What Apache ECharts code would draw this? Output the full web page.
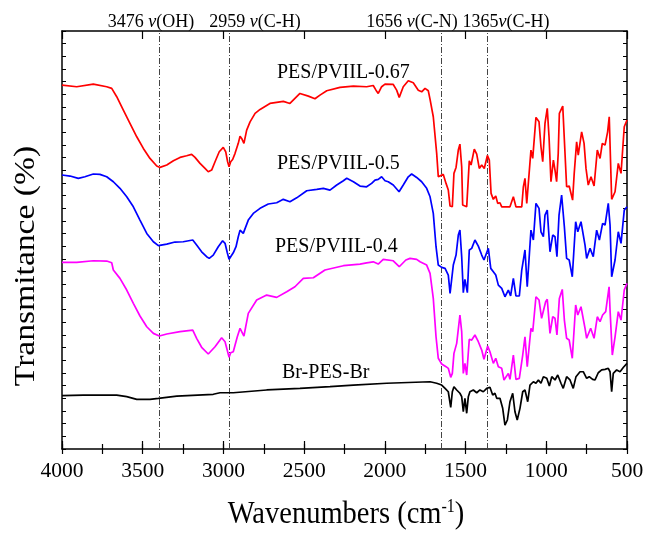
<!DOCTYPE html>
<html>
<head>
<meta charset="utf-8">
<script src="https://cdn.jsdelivr.net/npm/echarts@6/dist/echarts.min.js"></script>
<style>
  html, body { margin: 0; padding: 0; background: #fff; }
  #chart { width: 651px; height: 533px; }
</style>
</head>
<body>
<div id="chart"></div>
<script>
// FTIR spectra, offset vertically (arbitrary transmittance units)
const refLines = [3400, 2962, 1652, 1367];
const refLabels = ['3476 {i|ν}(OH)', '2959 {i|ν}(C-H)', '1656 {i|ν}(C-N)', '1365{i|ν}(C-H)'];

const redWn = [4000,3909,3806,3723,3692,3661,3620,3579,3537,3496,
  3455,3413,3393,3351,3310,3269,3228,3197,3176,3145,
  3114,3094,3073,3052,3026,3001,2986,2974,2965,2955,
  2943,2928,2908,2897,2887,2873,2856,2835,2804,2773,
  2712,2629,2588,2526,2474,2433,2402,2360,2278,2195,
  2113,2072,2055,2041,2020,1999,1948,1927,1911,1886,
  1855,1824,1793,1772,1751,1731,1720,
  1700,1679,1669,1658,1638,1621,1607,1596,1582,1572,1559,1545,1535,1524,1518,1493,1477,1466,1446,1431,
  1415,1400,1384,1365,1353,1342,1328,1313,1301,1287,1276,1225,1204,1188,1152,1142,1132,1121,1111,1095,
  1084,1064,1045,1033,1022,1008,994,983,971,956,946,936,926,919,909,898,888,874,858,837,
  827,812,802,781,766,754,740,723,704,684,667,653,636,620,610,595,574,554,537,517,500];
const redT = [28.73,28.60,28.81,28.60,28.47,27.81,26.76,25.71,24.65,23.73,
  22.94,22.34,22.23,22.42,22.75,23.02,23.15,23.26,23.02,22.55,
  22.15,21.89,22.02,22.68,23.47,23.81,23.47,22.68,22.28,22.68,
  22.86,23.34,24.13,24.70,24.52,24.13,25.18,25.83,26.50,26.81,
  27.28,27.44,27.28,28.07,27.86,27.65,27.94,28.28,28.55,28.65,
  28.60,28.70,28.33,28.07,28.60,28.81,28.78,28.33,27.76,28.60,
  29.07,28.91,28.33,28.20,28.47,28.28,27.60,
  26.23,23.34,21.49,21.44,21.68,20.97,20.44,19.18,19.12,21.76,22.23,23.60,24.07,22.28,19.26,19.12,22.75,22.42,23.68,23.28,
  22.15,22.42,22.15,23.18,22.81,20.18,19.71,19.97,19.39,19.44,19.12,19.12,19.91,19.12,19.12,20.70,21.37,19.39,19.39,23.60,
  22.94,26.18,25.83,23.86,22.68,25.71,26.89,24.65,21.10,22.81,22.02,21.10,23.34,26.50,26.62,27.07,24.39,20.70,20.76,19.65,
  21.76,24.25,23.20,25.04,24.13,22.15,20.84,21.49,20.76,23.60,22.94,24.13,23.99,25.04,26.23,19.71,20.31,22.55,21.76,25.44,25.97];

const blueWn = [4000,3950,3899,3858,3806,3765,3723,3682,3641,3599,
  3558,3517,3475,3434,3403,3351,3300,3249,3190,3166,
  3135,3104,3088,3063,3032,3005,2990,2976,2965,2955,
  2939,2922,2908,2897,2887,2877,2866,2846,2815,2773,
  2722,2670,2629,2588,2546,2484,2422,2381,2340,2298,
  2257,2236,2195,2154,2113,2082,2061,2041,2020,1999,
  1979,1948,1912,1886,1855,1834,1803,1772,1741,1720,
  1700,1683,1669,1648,1627,1607,1596,1584,1576,1559,1545,1535,1524,1514,1504,1489,1477,1462,1442,1421,
  1400,1386,1359,1344,1328,1313,1297,1276,1256,1235,1221,1204,1188,1167,1152,1132,1118,1095,1080,1064,
  1045,1033,1018,1008,994,977,960,946,934,921,905,888,874,858,839,818,805,785,760,750,
  729,709,688,671,651,636,616,605,595,574,554,537,517,500];
const blueT = [21.63,21.55,21.37,21.49,21.71,21.68,21.49,21.10,20.58,19.91,
  19.12,18.07,17.02,16.36,16.05,16.18,16.34,16.36,16.50,16.10,
  15.57,15.18,15.05,15.31,15.97,16.44,16.24,15.49,14.97,15.18,
  15.49,15.97,16.76,17.28,17.42,17.02,16.97,18.07,18.60,19.00,
  19.34,19.44,19.71,19.52,19.83,20.39,20.50,20.58,20.44,20.84,
  21.18,21.37,21.10,20.76,20.70,20.97,21.23,21.29,21.49,21.18,
  21.10,20.84,20.31,20.84,21.49,21.71,21.44,21.10,20.58,19.91,
  18.60,15.97,14.52,14.34,14.26,13.73,12.29,12.29,14.52,15.31,16.89,17.28,15.18,12.34,13.39,12.34,15.71,15.84,16.50,16.02,
  15.31,14.92,15.84,14.26,13.99,13.73,12.94,12.68,12.02,12.55,12.08,13.47,12.08,12.08,14.13,15.71,12.81,17.28,16.50,19.39,
  19.00,17.15,16.76,18.47,18.86,15.57,16.89,16.76,15.18,18.47,20.05,17.55,15.05,14.92,13.60,17.94,17.15,17.94,16.10,15.05,
  15.84,15.18,17.28,16.50,17.81,17.68,19.39,17.68,13.60,14.92,17.15,16.24,18.86,19.12];

const magWn = [4000,3909,3806,3723,3692,3682,3641,3599,3558,3517,
  3475,3434,3397,3351,3269,3190,3166,3135,3094,3052,
  3011,2990,2965,2955,2939,2914,2897,2873,2846,2794,
  2732,2670,2608,2557,2505,2443,2371,2257,2154,2113,
  2072,2041,2010,1948,1911,1870,1844,1803,1782,1741,1720,
  1700,1683,1669,1648,1621,1607,1592,1582,1572,1555,1535,1524,1514,1504,1493,1477,1462,1442,1421,1400,
  1386,1363,1349,1328,1313,1297,1276,1262,1235,1225,1204,1188,1167,1146,1132,1118,1095,1084,1064,1045,
  1029,1018,1004,994,977,960,946,934,919,901,888,874,858,839,818,805,785,760,750,725,
  704,684,667,651,632,611,605,591,574,554,537,517,500];
const magT = [14.74,14.74,14.86,14.84,14.70,14.13,13.47,12.55,11.50,10.50,
  9.65,9.13,8.92,9.08,9.26,9.39,8.74,8.03,7.50,8.07,
  8.78,8.47,7.24,7.60,7.68,8.86,9.53,8.92,10.71,11.76,
  12.15,11.97,12.42,12.81,13.47,13.52,14.13,14.47,14.60,14.70,
  14.78,14.60,14.97,14.86,14.39,14.92,15.05,14.97,14.78,14.52,13.87,
  11.89,8.86,7.16,6.71,6.50,6.37,5.66,5.97,7.55,8.34,10.58,9.26,5.97,6.76,5.84,8.66,8.60,9.00,8.47,7.81,
  7.08,8.13,7.68,6.76,7.16,6.50,6.37,5.45,5.97,5.50,7.42,5.50,5.58,7.42,8.86,6.50,9.53,9.26,12.02,11.76,
  10.32,10.18,11.63,11.82,9.13,10.44,10.32,9.00,11.89,12.60,10.18,8.74,8.60,7.16,11.37,10.58,11.23,9.53,8.74,9.53,
  8.74,10.44,10.05,10.58,10.84,12.81,10.97,7.42,8.86,10.84,10.18,12.55,13.08];

const blackWn = [4000,3868,3661,3599,3537,3455,3403,3289,3063,3021,
  2939,2732,2526,2340,2195,1989,1720,1679,1648,1627,
  1607,1592,1582,1572,1555,1535,1524,1514,1504,1493,
  1483,1473,1452,1431,1411,1390,1369,1349,1332,1318,
  1307,1287,1270,1256,1241,1225,1208,1194,1180,1163,
  1146,1132,1115,1101,1080,1064,1049,1033,1018,997,
  981,966,946,929,909,895,874,853,833,816,
  791,771,750,734,713,698,678,657,636,616,
  605,595,585,574,564,543,522,500];
const blackT = [4.21,4.26,4.26,4.13,3.92,3.92,4.00,4.18,4.32,4.44,
  4.44,4.66,4.79,4.92,5.05,5.19,5.31,5.19,5.05,4.79,
  4.52,3.29,4.52,4.92,4.66,4.40,4.13,2.94,4.00,2.82,
  4.13,4.52,4.66,4.44,4.66,4.52,4.79,4.87,4.26,4.40,
  4.00,4.00,3.21,1.89,2.29,3.73,4.40,2.94,2.29,3.21,
  4.52,4.66,3.73,5.05,5.31,5.19,5.45,5.19,5.71,5.58,
  4.97,5.71,5.45,5.84,5.19,4.79,5.71,5.45,4.79,5.71,
  6.10,6.10,5.58,5.71,5.50,5.45,6.02,6.24,6.29,6.37,
  6.10,4.52,5.97,6.10,6.24,6.10,6.45,6.76];

const seriesNames = ['PES/PVIIL-0.67', 'PES/PVIIL-0.5', 'PES/PVIIL-0.4', 'Br-PES-Br'];
const seriesColors = ['#ff0000', '#0000ff', '#ff00ff', '#000000'];

const serif = '"Liberation Serif", "Times New Roman", serif';

function pairs(wn, t) {
  return wn.map((w, i) => [w, t[i]]);
}

const chart = echarts.init(document.getElementById('chart'));

const baseX = {
  type: 'value',
  min: 500,
  max: 4000,
  inverse: true,
  splitLine: { show: false }
};

const baseY = {
  type: 'value',
  min: 0,
  max: 33,
  interval: 1,
  axisLine: { show: true, onZero: false, lineStyle: { color: '#000', width: 1.5 } },
  axisTick: { show: true, inside: true, length: 4, lineStyle: { color: '#000', width: 1 } },
  axisLabel: { show: false },
  splitLine: { show: false }
};

const majorX = Object.assign({}, baseX, {
  interval: 500,
  axisLine: { show: true, onZero: false, lineStyle: { color: '#000', width: 1.5 } },
  axisTick: { show: true, inside: true, length: 8, lineStyle: { color: '#000', width: 1.2 } }
});
const minorX = Object.assign({}, baseX, {
  interval: 250,
  axisLine: { show: false },
  axisTick: { show: true, inside: true, length: 5, lineStyle: { color: '#000', width: 1.2 } },
  axisLabel: { show: false }
});

const allData = [pairs(redWn, redT), pairs(blueWn, blueT), pairs(magWn, magT), pairs(blackWn, blackT)];

const series = allData.map((d, i) => ({
  name: seriesNames[i],
  type: 'line',
  data: d,
  showSymbol: false,
  symbol: 'none',
  lineStyle: { color: seriesColors[i], width: 1.7 },
  z: 3
}));

// dash-dot guide lines at the assigned bands
series[3].markLine = {
  symbol: 'none',
  silent: true,
  label: { show: false },
  lineStyle: { color: '#444', width: 1, type: [6, 2, 1, 2] },
  data: refLines.map(w => ({ xAxis: w })),
  z: 2
};

const labelPos = [[151, 22], [255, 22], [412, 22], [506, 22]];
const seriesLabelPos = [[277, 72], [277, 163], [275, 246], [282, 372]];

const graphics = [];
refLabels.forEach((t, i) => {
  graphics.push({
    type: 'text',
    x: labelPos[i][0],
    y: labelPos[i][1],
    scaleY: 1.1,
    style: {
      text: t,
      fontFamily: serif,
      fontSize: 18,
      fill: '#000',
      align: 'center',
      verticalAlign: 'middle',
      rich: { i: { fontFamily: serif, fontSize: 18, fontStyle: 'italic', fill: '#000' } }
    }
  });
});
seriesNames.forEach((n, i) => {
  graphics.push({
    type: 'text',
    x: seriesLabelPos[i][0],
    y: seriesLabelPos[i][1],
    scaleY: 1.1,
    style: {
      text: n,
      fontFamily: serif,
      fontSize: 20,
      fill: '#000',
      align: 'left',
      verticalAlign: 'middle'
    }
  });
});
// axis titles
graphics.push({
  type: 'text',
  x: 26,
  y: 266,
  rotation: Math.PI / 2,
  scaleX: 1.12,
  style: {
    text: 'Transmitance (%)',
    fontFamily: serif,
    fontSize: 30,
    fill: '#000',
    align: 'center',
    verticalAlign: 'middle'
  }
});
graphics.push({
  type: 'text',
  x: 346,
  y: 515,
  scaleY: 1.12,
  style: {
    text: 'Wavenumbers (cm{sup|-1})',
    fontFamily: serif,
    fontSize: 28.5,
    fill: '#000',
    align: 'center',
    verticalAlign: 'middle',
    rich: { sup: { fontFamily: serif, fontSize: 16, fill: '#000', verticalAlign: 'top', lineHeight: 30 } }
  }
});

chart.setOption({
  animation: false,
  backgroundColor: '#fff',
  grid: { left: 62, right: 24, top: 31, bottom: 84, containLabel: false },
  xAxis: [
    Object.assign({}, majorX, {
      position: 'bottom',
      axisLabel: {
        show: true, fontFamily: serif, fontSize: 21.5, color: '#000', margin: 11,
        showMinLabel: true, showMaxLabel: true,
        formatter: v => String(v)
      }
    }),
    Object.assign({}, majorX, { position: 'top', axisLabel: { show: false } }),
    Object.assign({}, minorX, { position: 'bottom' }),
    Object.assign({}, minorX, { position: 'top' })
  ],
  yAxis: [
    Object.assign({}, baseY, { position: 'left' }),
    Object.assign({}, baseY, { position: 'right' })
  ],
  series: series,
  graphic: graphics
});
</script>
</body>
</html>
